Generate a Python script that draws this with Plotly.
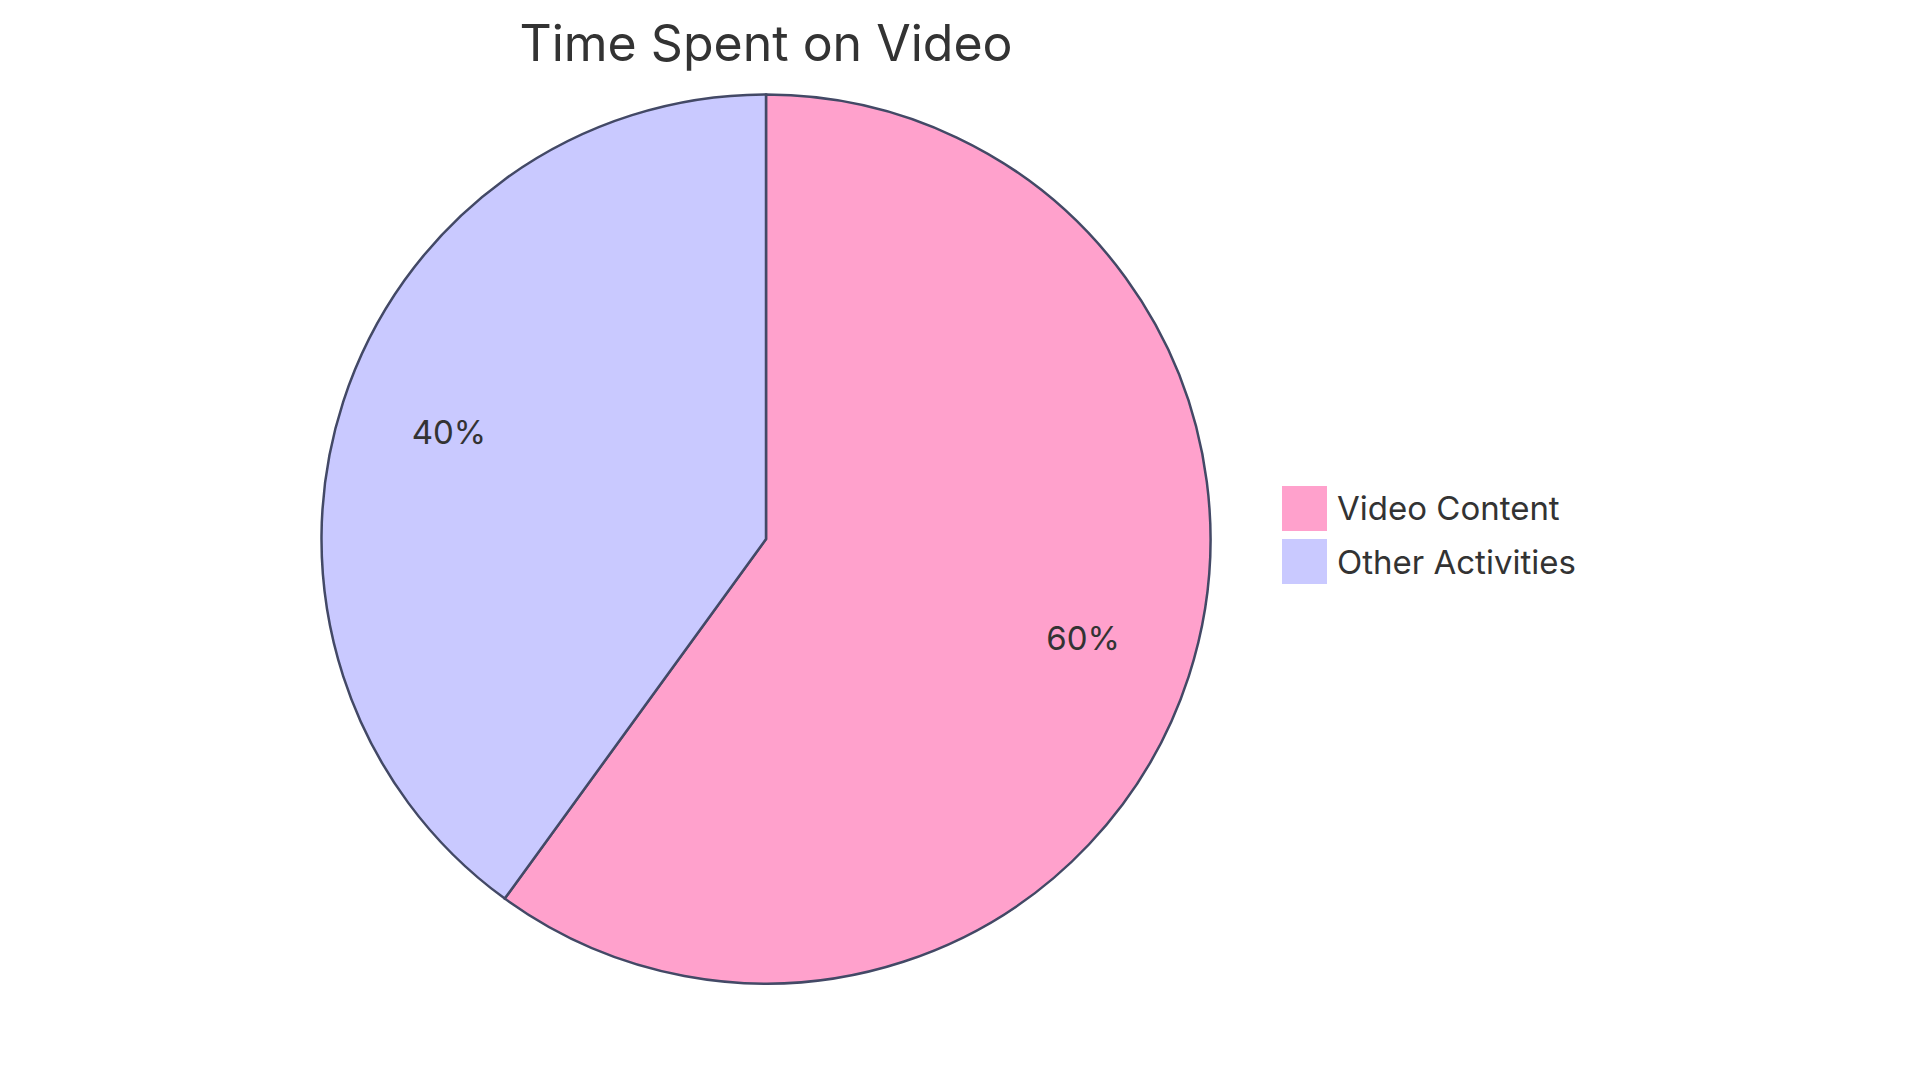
import plotly.graph_objects as go

# chart data
labels = ["Video Content", "Other Activities"]
values = [60, 40]
colors = ["#FFA1CC", "#C9C9FF"]
title = "Time Spent on Video"

W, H = 1920, 1083
FONT = "Inter, Open Sans, sans-serif"
TEXT_COLOR = "#333333"
EDGE = "#434966"

# radial axis slightly longer than the wedges so the outer edge line is not clipped
R_MAX = 1.008

# pie box (pixels): centre ~ (758, 531), wedge radius ~444.5
half = 444.5 * R_MAX
dom_x = [0, 1516 / W]
dom_y = [(H - 531 - half) / H, (H - 531 + half) / H]

# slice angles from the values (clockwise from 12 o'clock)
total = sum(values)
spans = [v / total * 360 for v in values]
mid_angles = []
acc = 0
for s in spans:
    mid_angles.append(acc + s / 2)
    acc += s
pct_text = [f"{round(v / total * 100)}%" for v in values]

fig = go.Figure()

# the slices, as wedges on a polar axis so the labels can sit on top
fig.add_trace(
    go.Barpolar(
        r=[1] * len(values),
        theta=mid_angles,
        width=spans,
        marker=dict(color=colors, line=dict(color=EDGE, width=2.5)),
        customdata=labels,
        hovertemplate="%{customdata}<extra></extra>",
        showlegend=False,
    )
)

# percent labels at 3/4 of the radius, on each slice's middle angle
fig.add_trace(
    go.Scatterpolar(
        r=[0.75] * len(values),
        theta=mid_angles,
        mode="text",
        text=pct_text,
        textfont=dict(family=FONT, size=33, color=TEXT_COLOR),
        hoverinfo="skip",
        showlegend=False,
    )
)

fig.update_polars(
    domain=dict(x=dom_x, y=dom_y),
    bgcolor="rgba(0,0,0,0)",
    bargap=0,
    radialaxis=dict(range=[0, R_MAX], visible=False, showgrid=False),
    angularaxis=dict(rotation=90, direction="clockwise", visible=False, showgrid=False),
)

# hand-made legend so the swatches can be as big as in the original
sw = 45
top = 478
gap = 53
left = 1274
for i, (lab, col) in enumerate(zip(labels, colors)):
    y0 = top + i * gap
    fig.add_shape(
        type="rect",
        xref="paper", yref="paper",
        x0=left / W, x1=(left + sw) / W,
        y0=1 - (y0 + sw) / H, y1=1 - y0 / H,
        fillcolor=col,
        line=dict(width=0),
    )
    fig.add_annotation(
        x=(left + sw + 8) / W, y=1 - (y0 + sw / 2) / H,
        xref="paper", yref="paper",
        xanchor="left", yanchor="middle",
        text=lab, showarrow=False,
        font=dict(family=FONT, size=33, color=TEXT_COLOR),
    )

fig.update_layout(
    width=W,
    height=H,
    margin=dict(l=0, r=0, t=0, b=0),
    paper_bgcolor="white",
    plot_bgcolor="white",
    title=dict(
        text=title,
        x=758 / W, xanchor="center", xref="paper",
        y=1 - 35 / H, yanchor="middle", yref="container",
        font=dict(family=FONT, size=50, color=TEXT_COLOR),
    ),
)

fig.write_html("out.html")
